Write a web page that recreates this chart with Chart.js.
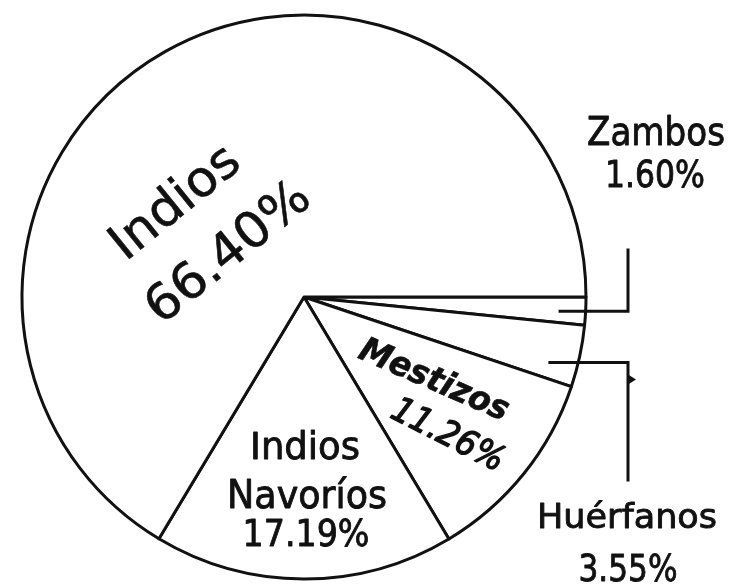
<!DOCTYPE html>
<html>
<head>
<meta charset="utf-8">
<script src="https://cdn.jsdelivr.net/npm/chart.js@4/dist/chart.umd.min.js"></script>
<style>
  html, body { margin: 0; padding: 0; background: #fff; }
  canvas { display: block; }
</style>
</head>
<body>
<canvas id="pieChart" width="730" height="585"></canvas>
<script>
// data (clockwise from 3 o'clock)
var groups = ['Zambos', 'Huérfanos', 'Mestizos', 'Indios Navoríos', 'Indios'];
var shares = [1.60, 3.55, 11.26, 17.19, 66.40];

function pct(i) { return shares[i].toFixed(2) + '%'; }

// draw text centred on (x, y = middle of caps), stretched to a given width
function put(ctx, text, x, y, o) {
    ctx.save();
    ctx.translate(x, y);
    ctx.rotate((o.angle || 0) * Math.PI / 180);
    ctx.font = (o.style || '') + ' ' + o.size + 'px "DejaVu Sans", sans-serif';
    var w = ctx.measureText(text).width;
    ctx.scale(o.width / w, 1);
    ctx.textAlign = 'center';
    ctx.textBaseline = 'alphabetic';
    ctx.fillStyle = '#111';
    ctx.strokeStyle = '#111';
    ctx.lineWidth = o.stroke === undefined ? 0.9 : o.stroke;
    ctx.lineJoin = 'round';
    var by = o.size * 0.729 / 2;
    ctx.fillText(text, 0, by);
    if (ctx.lineWidth > 0) ctx.strokeText(text, 0, by);
    ctx.restore();
}

var labelPlugin = {
    id: 'sliceLabels',
    afterDraw: function(chart) {
        var ctx = chart.ctx;
        var arcs = chart.getDatasetMeta(0).data;
        var cx = arcs[0].x, cy = arcs[0].y, R = arcs[0].outerRadius;

        // leader lines for the two thin slices
        ctx.save();
        ctx.strokeStyle = '#111';
        ctx.lineWidth = 3;
        ctx.lineCap = 'square';

        var a0 = arcs[0].startAngle + 0.5 * (arcs[0].endAngle - arcs[0].startAngle);
        var y0 = cy + R * Math.sin(a0);
        ctx.beginPath();
        ctx.moveTo(cx + 0.908 * R, y0);
        ctx.lineTo(cx + R + 42, y0);
        ctx.lineTo(cx + R + 42, 250);
        ctx.stroke();

        var a1 = arcs[1].startAngle + 0.6 * (arcs[1].endAngle - arcs[1].startAngle);
        var y1 = cy + R * Math.sin(a1);
        ctx.beginPath();
        ctx.moveTo(cx + 0.872 * R, y1);
        ctx.lineTo(cx + R + 42, y1);
        ctx.lineTo(cx + R + 42, 480);
        ctx.stroke();
        // little arrow tick on the Huérfanos leader
        ctx.fillStyle = '#111';
        ctx.beginPath();
        ctx.moveTo(cx + R + 42, y1 + 12);
        ctx.lineTo(cx + R + 50, y1 + 17);
        ctx.lineTo(cx + R + 42, y1 + 22);
        ctx.closePath();
        ctx.fill();
        ctx.restore();

        // Zambos / Huérfanos outside
        put(ctx, groups[0], 656, 131, {size: 39, width: 138});
        put(ctx, pct(0), 655, 174, {size: 37, width: 100});
        put(ctx, groups[1], 627, 516, {size: 34, width: 180});
        put(ctx, pct(1), 628, 568, {size: 37, width: 99});

        // Mestizos, tilted
        put(ctx, groups[2], 435, 378, {size: 34, width: 160, angle: 23.5, style: 'oblique bold', stroke: 0.6});
        put(ctx, pct(2), 449, 433, {size: 35, width: 122, angle: 27, style: 'oblique', stroke: 1.4});

        // Indios Navoríos, two lines plus value
        var nav = groups[3].split(' ');
        put(ctx, nav[0], 305, 446, {size: 37, width: 110});
        put(ctx, nav[1], 307, 494, {size: 39, width: 160});
        put(ctx, pct(3), 306, 533, {size: 37, width: 127});

        // Indios, big and tilted
        put(ctx, groups[4], 173, 200, {size: 50, width: 152, angle: -39, stroke: 0.6});
        put(ctx, pct(4), 226, 250, {size: 50, width: 196, angle: -39, stroke: 0.6});
    }
};

var ctx = document.getElementById('pieChart').getContext('2d');
var pieChart = new Chart(ctx, {
    type: 'pie',
    data: {
        labels: groups,
        datasets: [{
            data: shares,
            backgroundColor: '#ffffff',
            borderColor: '#111111',
            borderWidth: 3,
            borderJoinStyle: 'round',
            hoverOffset: 0,
            offset: 0
        }]
    },
    options: {
        responsive: false,
        animation: false,
        rotation: 90,
        radius: 282,
        layout: {
            padding: { left: 0, right: 122, top: 9, bottom: 0 }
        },
        plugins: {
            legend: { display: false },
            tooltip: { enabled: false }
        }
    },
    plugins: [labelPlugin]
});
</script>
</body>
</html>
